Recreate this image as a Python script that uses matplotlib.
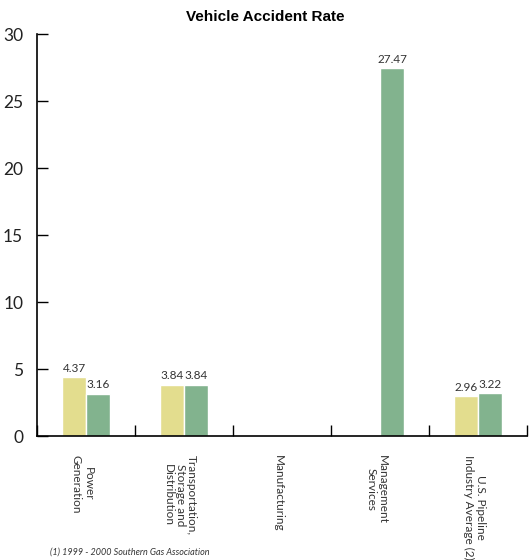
import numpy as np
import matplotlib
matplotlib.use("Agg")
import matplotlib.pyplot as plt

plt.rcParams['font.family'] = ['Lato', 'DejaVu Sans']

categories = [
    "Power\nGeneration",
    "Transportation,\nStorage and\nDistribution",
    "Manufacturing",
    "Management\nServices",
    "U.S. Pipeline\nIndustry Average (2)",
]
rate_yellow = [4.37, 3.84, 0.0, 0.0, 2.96]
rate_green = [3.16, 3.84, 0.0, 27.47, 3.22]
y_ticks = [0, 5, 10, 15, 20, 25, 30]

YELLOW = "#e3dd8e"
GREEN = "#82b38e"

fig = plt.figure(figsize=(5.3, 5.6), dpi=100)
ax = fig.add_axes([0.070, 0.2214, 0.925, 0.7176])

x = np.arange(len(categories))
w = 0.245
b1 = ax.bar(x - w / 2, rate_yellow, w, color=YELLOW, edgecolor="white", linewidth=1)
b2 = ax.bar(x + w / 2, rate_green, w, color=GREEN, edgecolor="white", linewidth=1)

# value labels above non-zero bars
for bars, vals in ((b1, rate_yellow), (b2, rate_green)):
    for rect, v in zip(bars, vals):
        if v > 0:
            ax.text(rect.get_x() + rect.get_width() / 2, v + 0.25, f"{v:.2f}",
                    ha="center", va="bottom", fontsize=8.5, color="#333333")

ax.set_xlim(-0.5, len(categories) - 0.5)
ax.set_ylim(0, 30)
ax.set_yticks(y_ticks)
ax.tick_params(axis="y", direction="in", length=8, width=1, labelsize=12.5,
               pad=10, colors="black", labelcolor="#222222")
ax.set_xticks(np.arange(len(categories) + 1) - 0.5)
ax.set_xticklabels([])
ax.tick_params(axis="x", direction="in", length=8, width=1)

for s in ("top", "right"):
    ax.spines[s].set_visible(False)
for s in ("left", "bottom"):
    ax.spines[s].set_linewidth(1.2)

# rotated category names under the axis
for xi, name in zip(x, categories):
    ax.text(xi - 0.04, -1.4, name, rotation=270, ha="center", va="top",
            fontsize=8.5, color="#333333", linespacing=1.05)

fig.text(0.5, 0.970, "Vehicle Accident Rate", ha="center", va="center",
         fontsize=11, fontweight="bold", family=["Liberation Sans", "DejaVu Sans"])
fig.text(0.094, 0.006, "(1) 1999 - 2000 Southern Gas Association",
         ha="left", va="bottom", fontsize=6.5, style="italic", color="#333333")

fig.savefig("out.png", dpi=100)
